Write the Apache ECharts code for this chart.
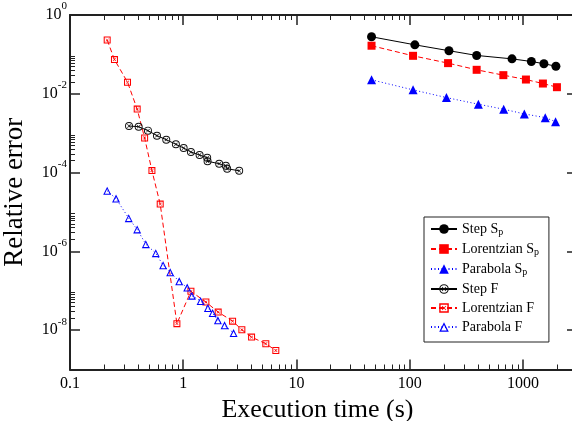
<!DOCTYPE html>
<html>
<head>
<meta charset="utf-8">
<script src="https://cdn.jsdelivr.net/npm/echarts@6/dist/echarts.min.js"></script>
<style>html,body{margin:0;padding:0;background:#fff}#c{width:572px;height:421px}</style>
</head>
<body>
<div id="c"></div>
<script>
// ---- data ----
const stepSpX = [46, 111, 222, 390, 800, 1186, 1531, 1954];
const stepSpY = [0.28, 0.175, 0.124, 0.094, 0.077, 0.066, 0.058, 0.050];
const lorSpX = [46, 107, 218, 390, 671, 1062, 1500, 1995];
const lorSpY = [0.166, 0.092, 0.060, 0.0406, 0.0297, 0.023, 0.0182, 0.0147];
const parSpX = [46, 107, 211, 404, 676, 1028, 1574, 1941];
const parSpY = [0.0226, 0.01257, 0.0080, 0.00543, 0.00405, 0.00308, 0.00248, 0.00196];
const stepFX = [0.332, 0.404, 0.488, 0.586, 0.708, 0.861, 1.008, 1.169, 1.394, 1.627, 1.64, 2.076, 2.378, 2.443, 3.119];
const stepFY = [1.52e-3, 1.46e-3, 1.16e-3, 8.64e-4, 6.83e-4, 5.22e-4, 4.2e-4, 3.32e-4, 2.79e-4, 2.38e-4, 1.93e-4, 1.68e-4, 1.49e-4, 1.25e-4, 1.11e-4];
const lorFX = [0.213, 0.247, 0.322, 0.392, 0.456, 0.529, 0.626, 0.879, 1.169, 1.585, 2.035, 2.727, 3.294, 4.012, 5.36, 6.57];
const lorFY = [0.231, 0.0738, 0.0197, 4.08e-3, 7.55e-4, 1.12e-4, 1.58e-5, 1.46e-8, 9.66e-8, 5.16e-8, 2.87e-8, 1.69e-8, 1.02e-8, 6.64e-9, 4.51e-9, 3.04e-9];
const parFX = [0.213, 0.255, 0.330, 0.392, 0.467, 0.572, 0.664, 0.767, 0.921, 1.084, 1.192, 1.423, 1.651, 1.816, 2.023, 2.317, 2.782];
const parFY = [3.44e-5, 2.18e-5, 6.95e-6, 3.59e-6, 1.52e-6, 8.95e-7, 4.43e-7, 2.94e-7, 1.73e-7, 1.2e-7, 7.5e-8, 5.47e-8, 3.63e-8, 2.71e-8, 1.77e-8, 1.32e-8, 8.4e-9];

const seriesNames = ['Step Sp', 'Lorentzian Sp', 'Parabola Sp', 'Step F', 'Lorentzian F', 'Parabola F'];

// axis ranges and ticks
const xMin = 0.1, xMax = 3000, yMin = 1e-9, yMax = 1;
const xMajorTicks = [0.1, 1, 10, 100, 1000];
const xMinorTicks = [0.2,0.3,0.4,0.5,0.6,0.7,0.8,0.9, 2,3,4,5,6,7,8,9, 20,30,40,50,60,70,80,90, 200,300,400,500,600,700,800,900, 2000];
const yMajorTicks = [1, 1e-2, 1e-4, 1e-6, 1e-8];
const yMinorTicks = [2e-2,3e-2,4e-2,5e-2,6e-2,7e-2,8e-2,9e-2, 2e-4,3e-4,4e-4,5e-4,6e-4,7e-4,8e-4,9e-4,
                     2e-6,3e-6,4e-6,5e-6,6e-6,7e-6,8e-6,9e-6, 2e-8,3e-8,4e-8,5e-8,6e-8,7e-8,8e-8,9e-8];

function pairs(xs, ys) { return xs.map((x, i) => [x, ys[i]]); }
const lg = a => a.map(v => Math.log10(v));

const FONT = '"Liberation Serif","Times New Roman",serif';
const AX = '#222';
const circX = 'path://M10,0A10,10,0,1,1,10,20A10,10,0,1,1,10,0ZM10,2.4A7.6,7.6,0,1,0,10,17.6A7.6,7.6,0,1,0,10,2.4ZM6.5,5.3L10,8.8L13.5,5.3L14.7,6.5L11.2,10L14.7,13.5L13.5,14.7L10,11.2L6.5,14.7L5.3,13.5L8.8,10L5.3,6.5Z';
const sqX = 'path://M0,0H20V20H0ZM3,3V17H17V3ZM6.5,5.3L10,8.8L13.5,5.3L14.7,6.5L11.2,10L14.7,13.5L13.5,14.7L10,11.2L6.5,14.7L5.3,13.5L8.8,10L5.3,6.5Z';
const triO = 'path://M10,0L20,18H0ZM10,5.15L4.25,15.5H15.75Z';

// main log axes: line + labels (data are mapped through these)
function xLogAxis(pos, labels) {
  return {
    type: 'log', logBase: 10, min: xMin, max: xMax, position: pos, gridIndex: 0,
    axisLine: { show: true, onZero: false, lineStyle: { color: AX, width: 2 } },
    axisTick: { show: false }, minorTick: { show: false }, splitLine: { show: false },
    axisLabel: labels ? {
      show: true, customValues: xMajorTicks, margin: 6, color: '#000',
      fontFamily: FONT, fontSize: 16,
      formatter: v => String(+(+v).toPrecision(6))
    } : { show: false },
    name: labels ? 'Execution time (s)' : '',
    nameLocation: 'middle', nameGap: 28,
    nameTextStyle: { fontFamily: FONT, fontSize: 26, color: '#000', padding: [0, 12, 0, 0] }
  };
}
function yLogAxis(pos, labels) {
  return {
    type: 'log', logBase: 10, min: yMin, max: yMax, position: pos, gridIndex: 0,
    axisLine: { show: true, onZero: false, lineStyle: { color: AX, width: 2 } },
    axisTick: { show: false }, minorTick: { show: false }, splitLine: { show: false },
    axisLabel: labels ? {
      show: true, customValues: yMajorTicks, margin: 3, color: '#000',
      formatter: v => '{b|10}{s|' + Math.round(Math.log10(v)) + '}',
      rich: {
        b: { fontFamily: FONT, fontSize: 16, lineHeight: 28, color: '#000' },
        s: { fontFamily: FONT, fontSize: 11, lineHeight: 12, verticalAlign: 'top', color: '#000' }
      }
    } : { show: false },
    name: labels ? 'Relative error' : '',
    nameLocation: 'middle', nameGap: 42,
    nameTextStyle: { fontFamily: FONT, fontSize: 27, color: '#000' }
  };
}
// tick-only overlay axes (log10 space, same extent)
function tickAxis(pos, min, max, vals, len, w) {
  return {
    type: 'value', min: min, max: max, position: pos, gridIndex: 0,
    axisLine: { show: false, onZero: false }, splitLine: { show: false }, minorTick: { show: false },
    axisLabel: { show: false },
    axisTick: { show: true, inside: true, length: len, customValues: vals,
      lineStyle: { color: AX, width: w } }
  };
}
const lxMin = Math.log10(xMin), lxMax = Math.log10(xMax), lyMin = Math.log10(yMin), lyMax = Math.log10(yMax);

const chart = echarts.init(document.getElementById('c'), null, { renderer: 'canvas' });
chart.setOption({
  animation: false,
  backgroundColor: '#fff',
  grid: { left: 70, right: -5, top: 15, bottom: 51.5, containLabel: false, outerBoundsMode: 'none' },
  xAxis: [
    xLogAxis('bottom', true), xLogAxis('top', false),
    tickAxis('bottom', lxMin, lxMax, lg(xMajorTicks), 10, 1.5), tickAxis('top', lxMin, lxMax, lg(xMajorTicks), 10, 1.5),
    tickAxis('bottom', lxMin, lxMax, lg(xMinorTicks), 5, 1), tickAxis('top', lxMin, lxMax, lg(xMinorTicks), 5, 1)
  ],
  yAxis: [
    yLogAxis('left', true), yLogAxis('right', false),
    tickAxis('left', lyMin, lyMax, lg(yMajorTicks), 10, 1.5), tickAxis('right', lyMin, lyMax, lg(yMajorTicks), 10, 1.5),
    tickAxis('left', lyMin, lyMax, lg(yMinorTicks), 5, 1), tickAxis('right', lyMin, lyMax, lg(yMinorTicks), 5, 1)
  ],
  legend: {
    orient: 'vertical', left: 424, top: 217, width: 122,
    padding: [5, 10, 8, 6], itemGap: 5, itemWidth: 26, itemHeight: 12,
    borderColor: '#222', borderWidth: 1, backgroundColor: '#fff',
    data: seriesNames,
    formatter: name => name.endsWith('Sp') ? '{t|' + name.slice(0, -1) + '}{s|p}' : '{t|' + name + '}',
    textStyle: {
      rich: {
        t: { fontFamily: FONT, fontSize: 14, lineHeight: 16, color: '#000' },
        s: { fontFamily: FONT, fontSize: 10, lineHeight: 10, verticalAlign: 'bottom', color: '#000' }
      }
    }
  },
  series: [
    { name: seriesNames[0], type: 'line', data: pairs(stepSpX, stepSpY), symbol: 'circle', symbolSize: 9,
      lineStyle: { color: '#000', width: 1, type: 'solid' }, itemStyle: { color: '#000', borderWidth: 0 } },
    { name: seriesNames[1], type: 'line', data: pairs(lorSpX, lorSpY), symbol: 'rect', symbolSize: 8,
      lineStyle: { color: '#ff0000', width: 1, type: [5, 3] }, itemStyle: { color: '#ff0000', borderWidth: 0 } },
    { name: seriesNames[2], type: 'line', data: pairs(parSpX, parSpY), symbol: 'triangle', symbolSize: 9,
      lineStyle: { color: '#0000ff', width: 1, type: [1, 2.5] }, itemStyle: { color: '#0000ff', borderWidth: 0 } },
    { name: seriesNames[3], type: 'line', data: pairs(stepFX, stepFY), symbol: circX, symbolSize: 8,
      lineStyle: { color: '#000', width: 1, type: 'solid' }, itemStyle: { color: '#111', borderWidth: 0 } },
    { name: seriesNames[4], type: 'line', data: pairs(lorFX, lorFY), symbol: sqX, symbolSize: 7,
      lineStyle: { color: '#ff0000', width: 1, type: [5, 3] }, itemStyle: { color: '#ff0000', borderWidth: 0 } },
    { name: seriesNames[5], type: 'line', data: pairs(parFX, parFY), symbol: triO, symbolSize: 8,
      lineStyle: { color: '#0000ff', width: 1, type: [1, 2.5] }, itemStyle: { color: '#0000ff', borderWidth: 0 } }
  ]
});
</script>
</body>
</html>
